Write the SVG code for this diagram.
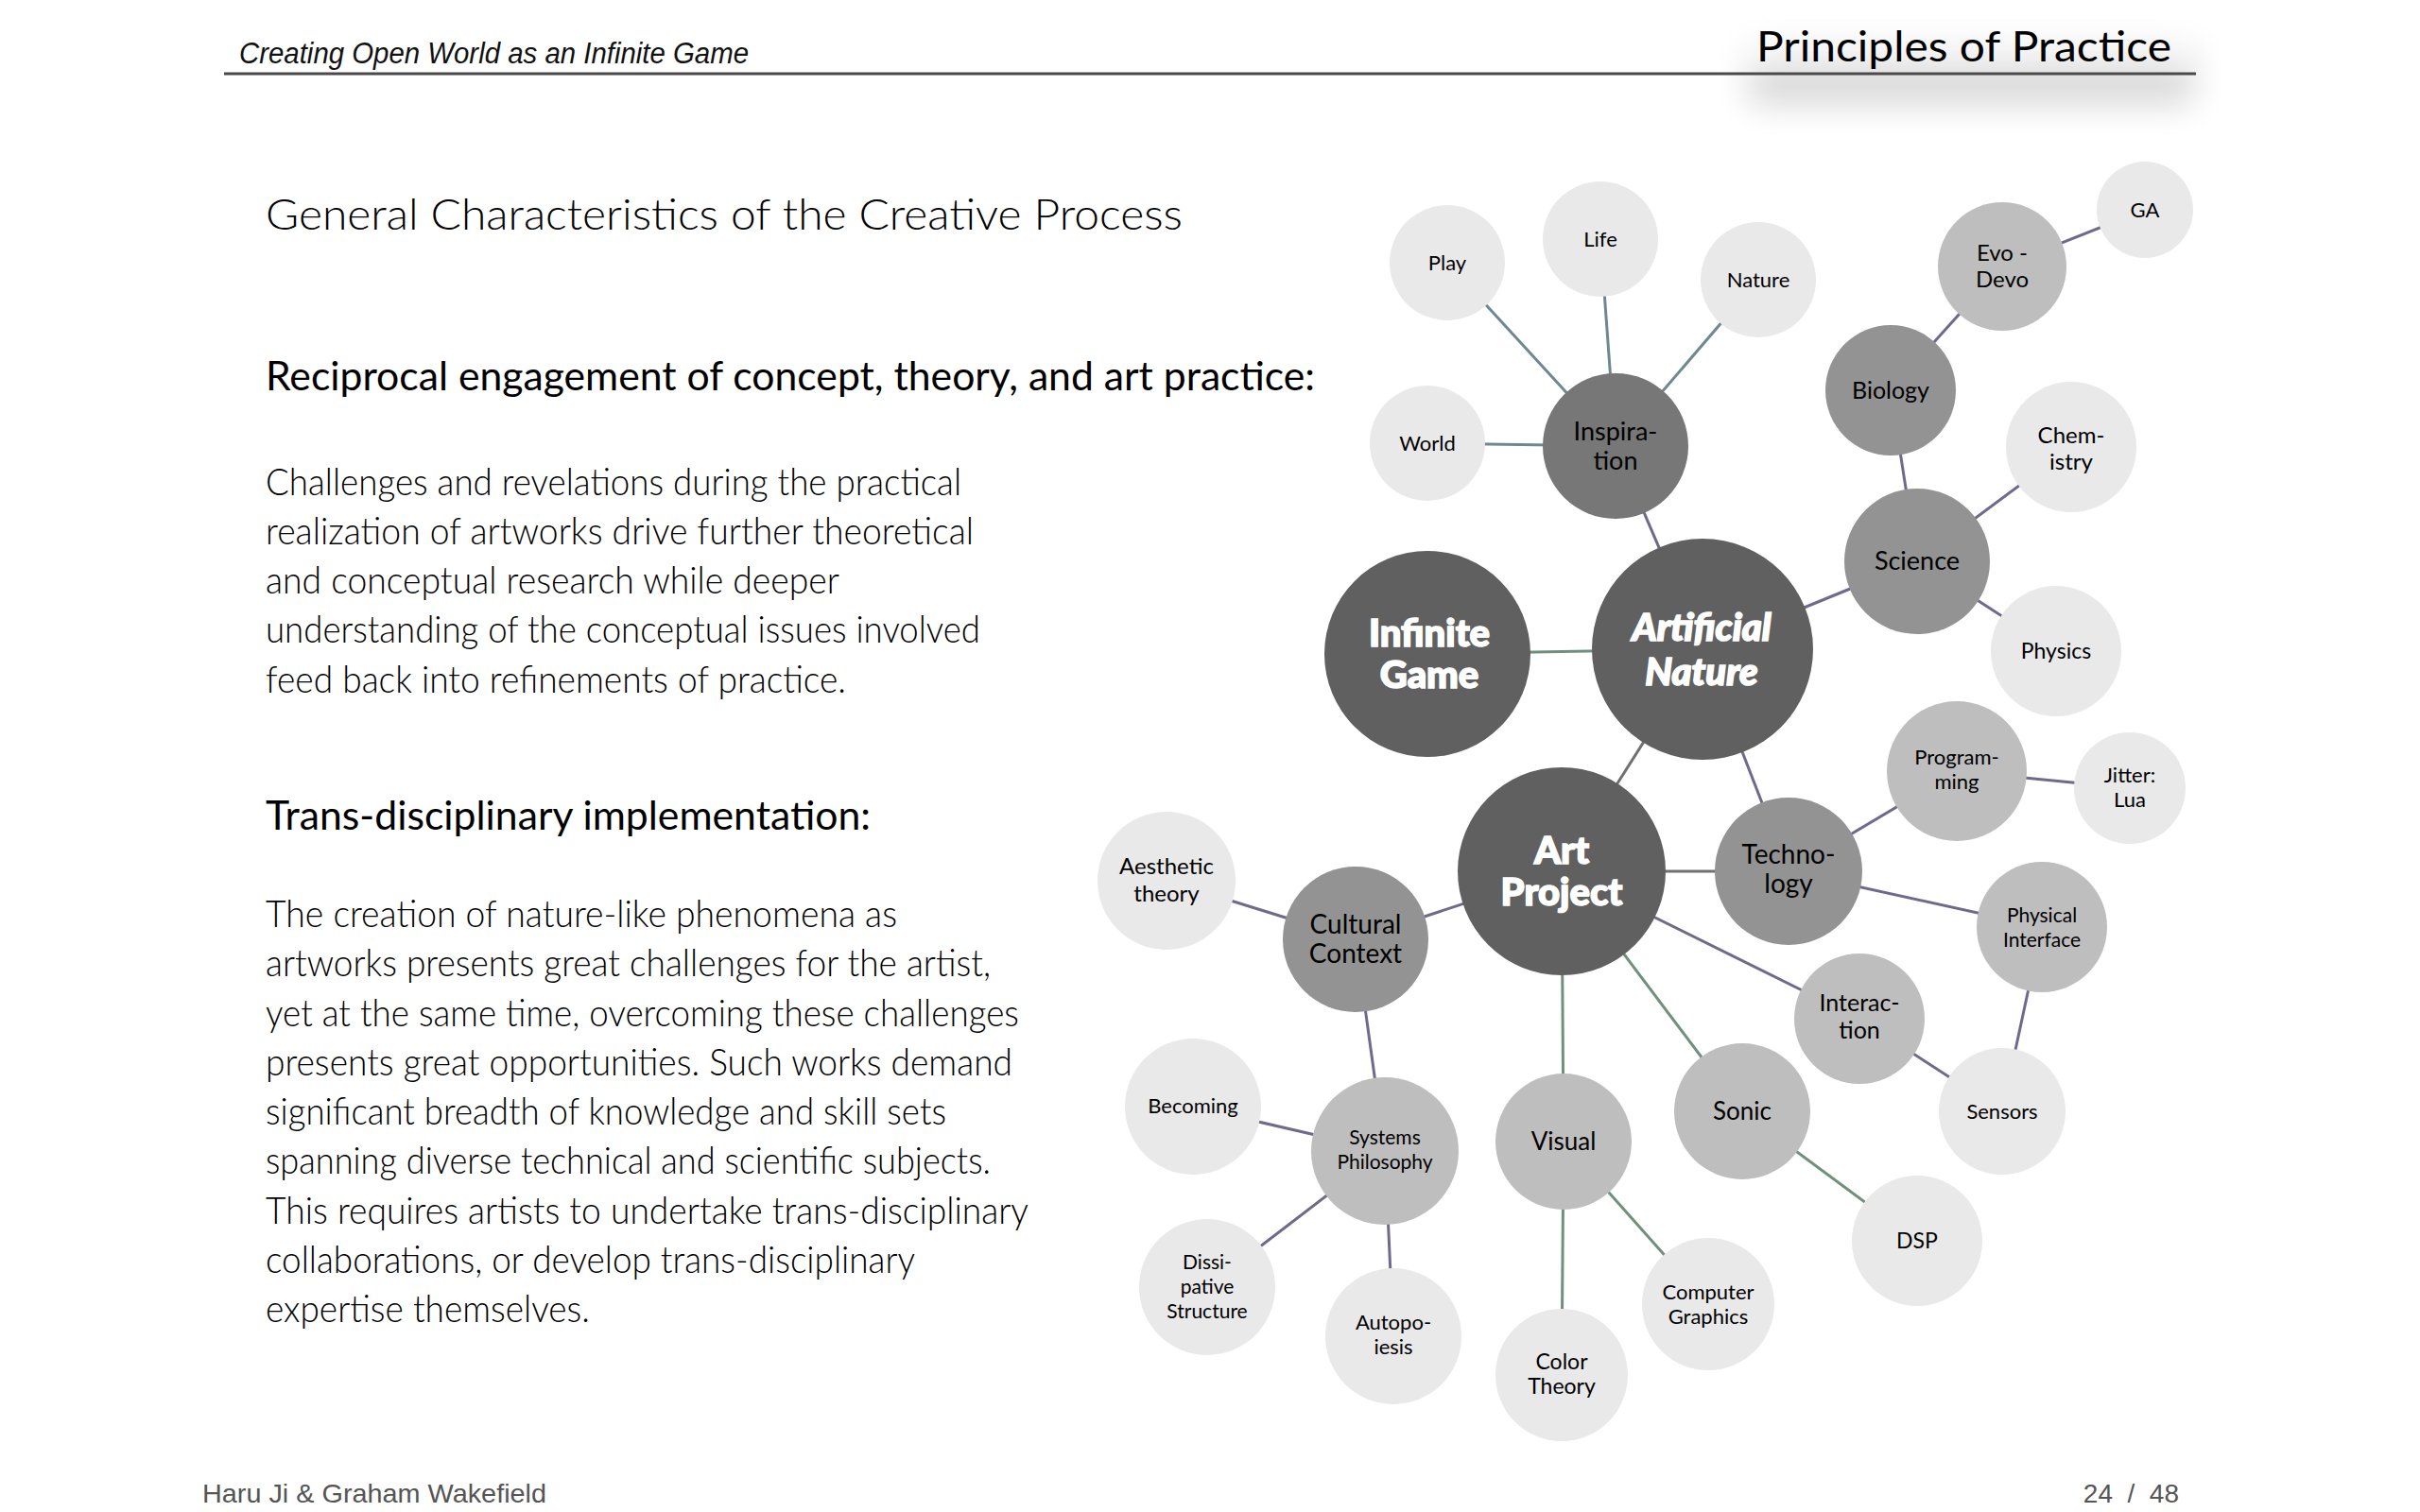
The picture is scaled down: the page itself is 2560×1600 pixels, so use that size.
<svg xmlns="http://www.w3.org/2000/svg" width="2560" height="1600" viewBox="0 0 2560 1600">
<defs>
<filter id="glow" x="-30%" y="-100%" width="160%" height="300%"><feGaussianBlur stdDeviation="18"/></filter>
<style>
.body{font-family:"Gill Sans","Lato","Open Sans",sans-serif;font-weight:300;fill:#000;}
.head{font-family:"Gill Sans","Lato","Open Sans",sans-serif;font-weight:400;fill:#000;}
.lbl{font-family:"Gill Sans","Lato","Open Sans",sans-serif;fill:#000;text-anchor:middle;}
.big{font-family:"Gill Sans","Lato","Open Sans",sans-serif;font-weight:900;fill:#fff;stroke:#fff;stroke-width:1.6;text-anchor:middle;font-size:40px;}
.foot{font-family:"Liberation Sans","Helvetica",sans-serif;fill:#555;font-size:28px;}
.c0{fill:#606060;}
.c1{fill:#777777;}
.c2{fill:#939393;}
.c3{fill:#bebebe;}
.c4{fill:#e9e9e9;}
.e{stroke-width:3;fill:none;}
.t{stroke:#6d8891;}
.p{stroke:#6e6a8c;}
.g{stroke:#6f917c;}
.k{stroke:#707070;}
</style>
</defs>
<rect width="2560" height="1600" fill="#fff"/>
<!-- header -->
<rect x="1850" y="50" width="470" height="60" fill="#000" opacity="0.16" filter="url(#glow)"/>
<rect x="1830" y="20" width="500" height="56" fill="#fff" opacity="0.6" filter="url(#glow)"/>
<text x="253" y="67" font-family="Liberation Sans, sans-serif" font-style="italic" font-size="31" fill="#111" textLength="539" lengthAdjust="spacingAndGlyphs">Creating Open World as an Infinite Game</text>
<text x="1858" y="65" class="head" font-size="44" textLength="439" lengthAdjust="spacingAndGlyphs">Principles of Practice</text>
<line x1="237" y1="78" x2="2323" y2="78" stroke="#4a4a4a" stroke-width="3"/>
<!-- left text -->
<text x="281" y="243" class="body" font-size="46" textLength="970" lengthAdjust="spacingAndGlyphs">General Characteristics of the Creative Process</text>
<text x="281" y="413" class="head" font-size="42" textLength="1110" lengthAdjust="spacingAndGlyphs">Reciprocal engagement of concept, theory, and art practice:</text>
<g class="body" font-size="40">
<text x="281" y="524" textLength="736" lengthAdjust="spacingAndGlyphs">Challenges and revelations during the practical</text>
<text x="281" y="576" textLength="749" lengthAdjust="spacingAndGlyphs">realization of artworks drive further theoretical</text>
<text x="281" y="628" textLength="607" lengthAdjust="spacingAndGlyphs">and conceptual research while deeper</text>
<text x="281" y="680" textLength="756" lengthAdjust="spacingAndGlyphs">understanding of the conceptual issues involved</text>
<text x="281" y="733" textLength="614" lengthAdjust="spacingAndGlyphs">feed back into refinements of practice.</text>
</g>
<text x="281" y="878" class="head" font-size="42" textLength="640" lengthAdjust="spacingAndGlyphs">Trans-disciplinary implementation:</text>
<g class="body" font-size="40">
<text x="281" y="981" textLength="668" lengthAdjust="spacingAndGlyphs">The creation of nature-like phenomena as</text>
<text x="281" y="1033" textLength="767" lengthAdjust="spacingAndGlyphs">artworks presents great challenges for the artist,</text>
<text x="281" y="1086" textLength="797" lengthAdjust="spacingAndGlyphs">yet at the same time, overcoming these challenges</text>
<text x="281" y="1138" textLength="790" lengthAdjust="spacingAndGlyphs">presents great opportunities. Such works demand</text>
<text x="281" y="1190" textLength="720" lengthAdjust="spacingAndGlyphs">significant breadth of knowledge and skill sets</text>
<text x="281" y="1242" textLength="767" lengthAdjust="spacingAndGlyphs">spanning diverse technical and scientific subjects.</text>
<text x="281" y="1295" textLength="807" lengthAdjust="spacingAndGlyphs">This requires artists to undertake trans-disciplinary</text>
<text x="281" y="1347" textLength="687" lengthAdjust="spacingAndGlyphs">collaborations, or develop trans-disciplinary</text>
<text x="281" y="1399" textLength="343" lengthAdjust="spacingAndGlyphs">expertise themselves.</text>
</g>
<!-- footer -->
<text x="214" y="1590" class="foot" textLength="364" lengthAdjust="spacingAndGlyphs">Haru Ji &amp; Graham Wakefield</text>
<text x="2305" y="1590" class="foot" text-anchor="end" xml:space="preserve">24  /  48</text>
<!-- connectors -->
<g id="connectors" class="e">
<line class="e g" x1="1510" y1="692" x2="1801" y2="687"/>
<line class="e p" x1="1801" y1="687" x2="1709" y2="472"/>
<line class="e t" x1="1709" y1="472" x2="1531" y2="278"/>
<line class="e t" x1="1709" y1="472" x2="1693" y2="253"/>
<line class="e t" x1="1709" y1="472" x2="1860" y2="296"/>
<line class="e t" x1="1709" y1="472" x2="1510" y2="469"/>
<line class="e p" x1="1801" y1="687" x2="2028" y2="594"/>
<line class="e p" x1="2028" y1="594" x2="2000" y2="413"/>
<line class="e p" x1="2028" y1="594" x2="2191" y2="473"/>
<line class="e p" x1="2028" y1="594" x2="2175" y2="689"/>
<line class="e p" x1="2000" y1="413" x2="2118" y2="282"/>
<line class="e p" x1="2118" y1="282" x2="2269" y2="222"/>
<line class="e k" x1="1801" y1="687" x2="1652" y2="922"/>
<line class="e p" x1="1801" y1="687" x2="1892" y2="922"/>
<line class="e p" x1="1892" y1="922" x2="2070" y2="816"/>
<line class="e p" x1="2070" y1="816" x2="2253" y2="834"/>
<line class="e p" x1="1892" y1="922" x2="2160" y2="981"/>
<line class="e p" x1="2160" y1="981" x2="2118" y2="1176"/>
<line class="e k" x1="1652" y1="922" x2="1892" y2="922"/>
<line class="e p" x1="1652" y1="922" x2="1967" y2="1078"/>
<line class="e p" x1="1967" y1="1078" x2="2118" y2="1176"/>
<line class="e g" x1="1652" y1="922" x2="1843" y2="1176"/>
<line class="e g" x1="1843" y1="1176" x2="2028" y2="1313"/>
<line class="e g" x1="1652" y1="922" x2="1654" y2="1208"/>
<line class="e g" x1="1654" y1="1208" x2="1652" y2="1455"/>
<line class="e g" x1="1654" y1="1208" x2="1807" y2="1380"/>
<line class="e p" x1="1652" y1="922" x2="1434" y2="994"/>
<line class="e p" x1="1434" y1="994" x2="1234" y2="932"/>
<line class="e p" x1="1434" y1="994" x2="1465" y2="1218"/>
<line class="e p" x1="1465" y1="1218" x2="1262" y2="1171"/>
<line class="e p" x1="1465" y1="1218" x2="1277" y2="1362"/>
<line class="e p" x1="1465" y1="1218" x2="1474" y2="1414"/>
</g>
<!-- nodes -->
<g id="infinite-game"><circle class="c0" cx="1510" cy="692" r="109"/><text class="big" x="1512"><tspan x="1512" y="684">Infinite</tspan><tspan x="1512" y="728">Game</tspan></text></g>
<g id="artificial-nature"><circle class="c0" cx="1801" cy="687" r="117"/><text class="big" font-style="italic"><tspan x="1800" y="678">Artificial</tspan><tspan x="1800" y="725">Nature</tspan></text></g>
<g id="art-project"><circle class="c0" cx="1652" cy="922" r="110"/><text class="big" font-size="42"><tspan x="1652" y="914">Art</tspan><tspan x="1652" y="958">Project</tspan></text></g>
<g id="inspiration"><circle class="c1" cx="1709" cy="472" r="77"/><text class="lbl" font-size="27"><tspan x="1709" y="466">Inspira-</tspan><tspan x="1709" y="497">tion</tspan></text></g>
<g id="play"><circle class="c4" cx="1531" cy="278" r="61"/><text class="lbl" font-size="22" x="1531" y="286">Play</text></g>
<g id="life"><circle class="c4" cx="1693" cy="253" r="61"/><text class="lbl" font-size="22" x="1693" y="261">Life</text></g>
<g id="nature"><circle class="c4" cx="1860" cy="296" r="61"/><text class="lbl" font-size="22" x="1860" y="304">Nature</text></g>
<g id="world"><circle class="c4" cx="1510" cy="469" r="61"/><text class="lbl" font-size="22" x="1510" y="477">World</text></g>
<g id="biology"><circle class="c2" cx="2000" cy="413" r="69"/><text class="lbl" font-size="25" x="2000" y="422">Biology</text></g>
<g id="evo-devo"><circle class="c3" cx="2118" cy="282" r="68"/><text class="lbl" font-size="24"><tspan x="2118" y="276">Evo -</tspan><tspan x="2118" y="304">Devo</tspan></text></g>
<g id="ga"><circle class="c4" cx="2269" cy="222" r="51"/><text class="lbl" font-size="22" x="2269" y="230">GA</text></g>
<g id="science"><circle class="c2" cx="2028" cy="594" r="77"/><text class="lbl" font-size="27" x="2028" y="603">Science</text></g>
<g id="chemistry"><circle class="c4" cx="2191" cy="473" r="69"/><text class="lbl" font-size="24"><tspan x="2191" y="469">Chem-</tspan><tspan x="2191" y="497">istry</tspan></text></g>
<g id="physics"><circle class="c4" cx="2175" cy="689" r="69"/><text class="lbl" font-size="23" x="2175" y="697">Physics</text></g>
<g id="technology"><circle class="c2" cx="1892" cy="922" r="78"/><text class="lbl" font-size="28"><tspan x="1892" y="914">Techno-</tspan><tspan x="1892" y="945">logy</tspan></text></g>
<g id="programming"><circle class="c3" cx="2070" cy="816" r="74"/><text class="lbl" font-size="22"><tspan x="2070" y="809">Program-</tspan><tspan x="2070" y="835">ming</tspan></text></g>
<g id="jitter-lua"><circle class="c4" cx="2253" cy="834" r="59"/><text class="lbl" font-size="22"><tspan x="2253" y="828">Jitter:</tspan><tspan x="2253" y="854">Lua</tspan></text></g>
<g id="physical-interface"><circle class="c3" cx="2160" cy="981" r="69"/><text class="lbl" font-size="21"><tspan x="2160" y="976">Physical</tspan><tspan x="2160" y="1002">Interface</tspan></text></g>
<g id="sensors"><circle class="c4" cx="2118" cy="1176" r="67"/><text class="lbl" font-size="22" x="2118" y="1184">Sensors</text></g>
<g id="interaction"><circle class="c3" cx="1967" cy="1078" r="69"/><text class="lbl" font-size="25"><tspan x="1967" y="1070">Interac-</tspan><tspan x="1967" y="1099">tion</tspan></text></g>
<g id="sonic"><circle class="c3" cx="1843" cy="1176" r="72"/><text class="lbl" font-size="26" x="1843" y="1185">Sonic</text></g>
<g id="dsp"><circle class="c4" cx="2028" cy="1313" r="69"/><text class="lbl" font-size="23" x="2028" y="1321">DSP</text></g>
<g id="visual"><circle class="c3" cx="1654" cy="1208" r="72"/><text class="lbl" font-size="26" x="1654" y="1217">Visual</text></g>
<g id="computer-graphics"><circle class="c4" cx="1807" cy="1380" r="70"/><text class="lbl" font-size="22"><tspan x="1807" y="1375">Computer</tspan><tspan x="1807" y="1401">Graphics</tspan></text></g>
<g id="color-theory"><circle class="c4" cx="1652" cy="1455" r="70"/><text class="lbl" font-size="23"><tspan x="1652" y="1449">Color</tspan><tspan x="1652" y="1475">Theory</tspan></text></g>
<g id="cultural-context"><circle class="c2" cx="1434" cy="994" r="77"/><text class="lbl" font-size="28"><tspan x="1434" y="988">Cultural</tspan><tspan x="1434" y="1019">Context</tspan></text></g>
<g id="aesthetic-theory"><circle class="c4" cx="1234" cy="932" r="73"/><text class="lbl" font-size="24"><tspan x="1234" y="925">Aesthetic</tspan><tspan x="1234" y="954">theory</tspan></text></g>
<g id="systems-philosophy"><circle class="c3" cx="1465" cy="1218" r="78"/><text class="lbl" font-size="21"><tspan x="1465" y="1211">Systems</tspan><tspan x="1465" y="1237">Philosophy</tspan></text></g>
<g id="becoming"><circle class="c4" cx="1262" cy="1171" r="72"/><text class="lbl" font-size="22" x="1262" y="1178">Becoming</text></g>
<g id="dissipative-structure"><circle class="c4" cx="1277" cy="1362" r="72"/><text class="lbl" font-size="21"><tspan x="1277" y="1343">Dissi-</tspan><tspan x="1277" y="1369">pative</tspan><tspan x="1277" y="1395">Structure</tspan></text></g>
<g id="autopoiesis"><circle class="c4" cx="1474" cy="1414" r="72"/><text class="lbl" font-size="22"><tspan x="1474" y="1407">Autopo-</tspan><tspan x="1474" y="1433">iesis</tspan></text></g>
</svg>
